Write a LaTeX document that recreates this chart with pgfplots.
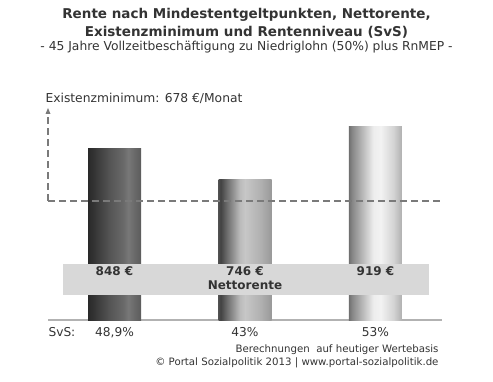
\documentclass[border=0pt]{standalone}
\usepackage{pgfplots}
\pgfplotsset{compat=1.18}
\usepackage{fontspec}
\setmainfont{DejaVu Sans}
\definecolor{txt}{HTML}{333333}
\definecolor{dashgray}{HTML}{7A7A7A}
\definecolor{band}{HTML}{D8D8D8}
\pgfdeclarehorizontalshading{barone}{100bp}{
  color(0bp)=(black!84); color(25bp)=(black!84); color(30bp)=(black!80);
  color(45bp)=(black!67); color(58bp)=(black!59); color(63bp)=(black!53);
  color(70bp)=(black!60); color(75bp)=(black!64); color(100bp)=(black!64)}
\pgfdeclarehorizontalshading{bartwo}{100bp}{
  color(0bp)=(black!69); color(25bp)=(black!69); color(27bp)=(black!74);
  color(32bp)=(black!60); color(45bp)=(black!27); color(50bp)=(black!22);
  color(65bp)=(black!31); color(75bp)=(black!40); color(100bp)=(black!40)}
\pgfdeclarehorizontalshading{barthree}{100bp}{
  color(0bp)=(black!56); color(25bp)=(black!56); color(28bp)=(black!47);
  color(35bp)=(black!33); color(48bp)=(black!7); color(55bp)=(black!5);
  color(67bp)=(black!17); color(75bp)=(black!31); color(100bp)=(black!31)}
\begin{document}
\begin{tikzpicture}
\begin{scope}[x=1pt,y=1pt]
\useasboundingbox (0,0) rectangle (493,381);
\end{scope}
\begin{axis}[
  at={(48pt,61pt)}, anchor=south west,
  scale only axis, width=394pt, height=210pt,
  xmin=-0.51, xmax=2.51, ymin=294, ymax=971,
  axis x line*=bottom, axis y line=none,
  x axis line style={color=black!30, line width=1.2pt},
  xtick={0,1,2},
  xticklabels={{48,9\%},{43\%},{53\%}},
  major tick length=0pt,
  xticklabel style={font=\fontsize{12.2}{14}\selectfont, text=txt, yshift=-3.5pt},
  bar width=53pt, bar shift=0pt,
  clip=false,
]
\addplot[ybar, draw=none, shading=barone] coordinates {(0,848)};
\addplot[ybar, draw=none, shading=bartwo] coordinates {(1,746)};
\addplot[ybar, draw=none, shading=barthree] coordinates {(2,919)};
\addplot[sharp plot, no marks, color=dashgray, line width=1.3pt, dash pattern=on 7pt off 4pt] coordinates {(-0.51,678) (2.525,678)};
\addplot[sharp plot, no marks, color=dashgray, line width=1.3pt, dash pattern=on 7pt off 4pt] coordinates {(-0.51,678) (-0.51,970)};
\end{axis}
\begin{scope}[x=1pt,y=1pt]
% titles
\node[font=\bfseries\fontsize{13.5}{15}\selectfont, text=txt] at (246.5,381-15) {Rente nach Mindestentgeltpunkten, Nettorente,};
\node[font=\bfseries\fontsize{13.5}{15}\selectfont, text=txt] at (246.5,381-32) {Existenzminimum und Rentenniveau (SvS)};
\node[font=\fontsize{12.3}{14}\selectfont, text=txt] at (246.5,381-47) {- 45 Jahre Vollzeitbesch\"aftigung zu Niedriglohn (50\%) plus RnMEP -};
\fill[dashgray] (48,381-108) -- (45.5,381-114) -- (50.5,381-114) -- cycle;
\node[font=\fontsize{12.3}{14}\selectfont, text=txt, anchor=west] at (42,381-98) {Existenzminimum: 678 €/Monat};
% band
\fill[band] (63,381-264) rectangle (429,381-295);
\node[font=\bfseries\fontsize{12}{14}\selectfont, text=txt] at (114.5,381-271.5) {848 €};
\node[font=\bfseries\fontsize{12}{14}\selectfont, text=txt] at (245,381-271.5) {746 €};
\node[font=\bfseries\fontsize{12}{14}\selectfont, text=txt] at (375.5,381-271.5) {919 €};
\node[font=\bfseries\fontsize{12}{14}\selectfont, text=txt] at (245,381-285.5) {Nettorente};
\node[font=\fontsize{12.2}{14}\selectfont, text=txt, anchor=west] at (45,381-332) {SvS:};
% footer
\node[font=\fontsize{10.2}{12}\selectfont, text=txt, anchor=east] at (442,381-350) {Berechnungen\ \ auf heutiger Wertebasis};
\node[font=\fontsize{10.2}{12}\selectfont, text=txt, anchor=east] at (442,381-362.5) {© Portal Sozialpolitik 2013 | www.portal-sozialpolitik.de};
\end{scope}
\end{tikzpicture}
\end{document}
